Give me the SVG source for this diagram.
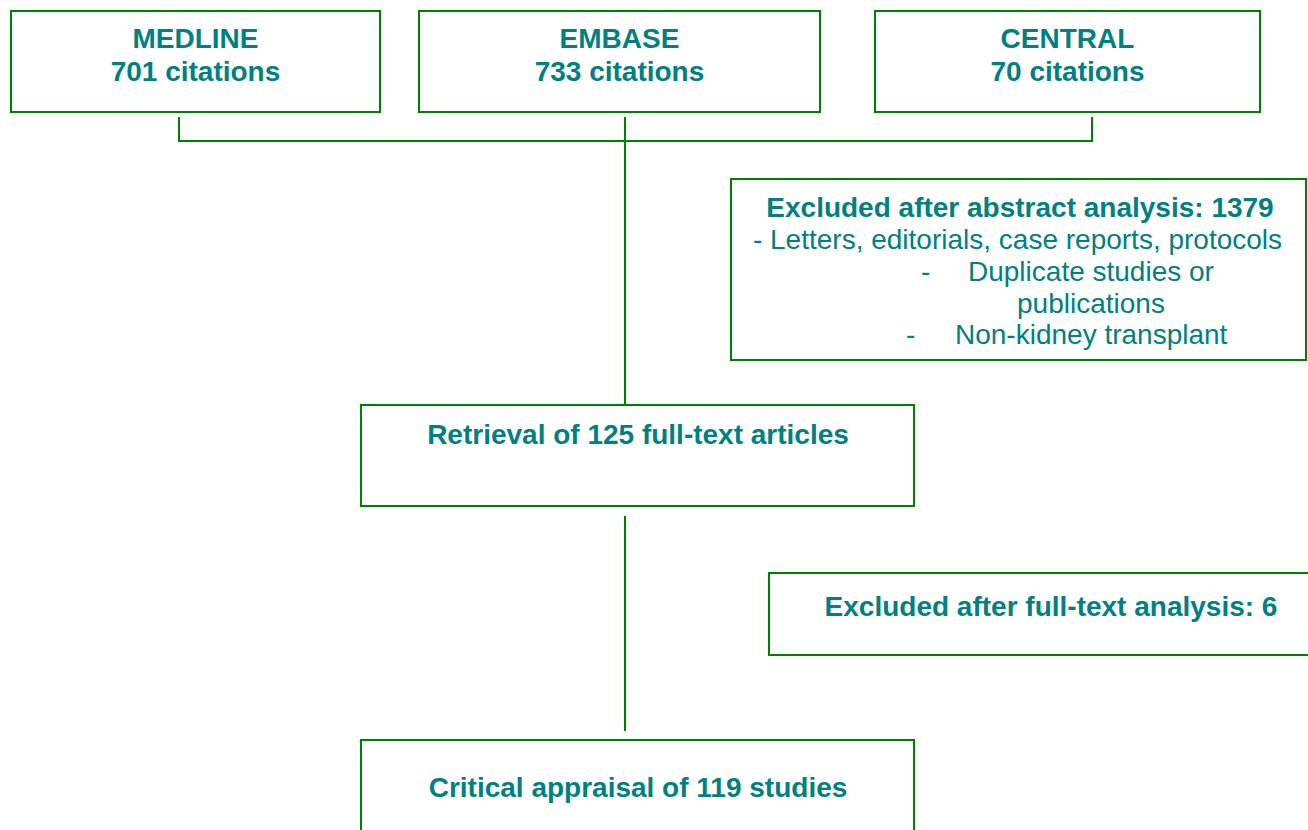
<svg xmlns="http://www.w3.org/2000/svg" width="1308" height="830" viewBox="0 0 1308 830">
<style>
.box{fill:#fff;stroke:#008000;stroke-width:2}
.con{fill:none;stroke:#008000;stroke-width:2}
.b{font-family:"Liberation Sans",Arial,sans-serif;font-weight:bold;font-size:28px;fill:#008080;text-anchor:middle}
.r{font-family:"Liberation Sans",Arial,sans-serif;font-size:28px;fill:#008080}
</style>
<rect width="1308" height="830" fill="#fff"/>
<g id="connectors">
<polyline class="con" points="179,117 179,141 1092,141 1092,117"/>
<line class="con" x1="625" y1="117" x2="625" y2="404"/>
<line class="con" x1="625" y1="516" x2="625" y2="731"/>
</g>
<g id="medline">
<rect class="box" x="11" y="11" width="369" height="101"/>
<text class="b" x="195.5" y="48">MEDLINE</text>
<text class="b" x="195.5" y="81">701 citations</text>
</g>
<g id="embase">
<rect class="box" x="419" y="11" width="401" height="101"/>
<text class="b" x="619.5" y="48">EMBASE</text>
<text class="b" x="619.5" y="81">733 citations</text>
</g>
<g id="central">
<rect class="box" x="875" y="11" width="385" height="101"/>
<text class="b" x="1067.5" y="48">CENTRAL</text>
<text class="b" x="1067.5" y="81">70 citations</text>
</g>
<g id="excluded-abstract">
<rect class="box" x="731" y="179" width="575" height="181"/>
<text class="b" x="1020" y="217">Excluded after abstract analysis: 1379</text>
<text class="r" x="1017.5" y="249" text-anchor="middle">- Letters, editorials, case reports, protocols</text>
<text class="r" x="921" y="281">-</text>
<text class="r" x="968" y="281">Duplicate studies or</text>
<text class="r" x="1017" y="313">publications</text>
<text class="r" x="906" y="344">-</text>
<text class="r" x="955" y="344">Non-kidney transplant</text>
</g>
<g id="retrieval">
<rect class="box" x="361" y="405" width="553" height="101"/>
<text class="b" x="638" y="444">Retrieval of 125 full-text articles</text>
</g>
<g id="excluded-fulltext">
<rect class="box" x="769" y="573" width="560" height="82"/>
<text class="b" x="1051" y="616">Excluded after full-text analysis: 6</text>
</g>
<g id="appraisal">
<rect class="box" x="361" y="740" width="553" height="110"/>
<text class="b" x="638" y="797">Critical appraisal of 119 studies</text>
</g>
</svg>
